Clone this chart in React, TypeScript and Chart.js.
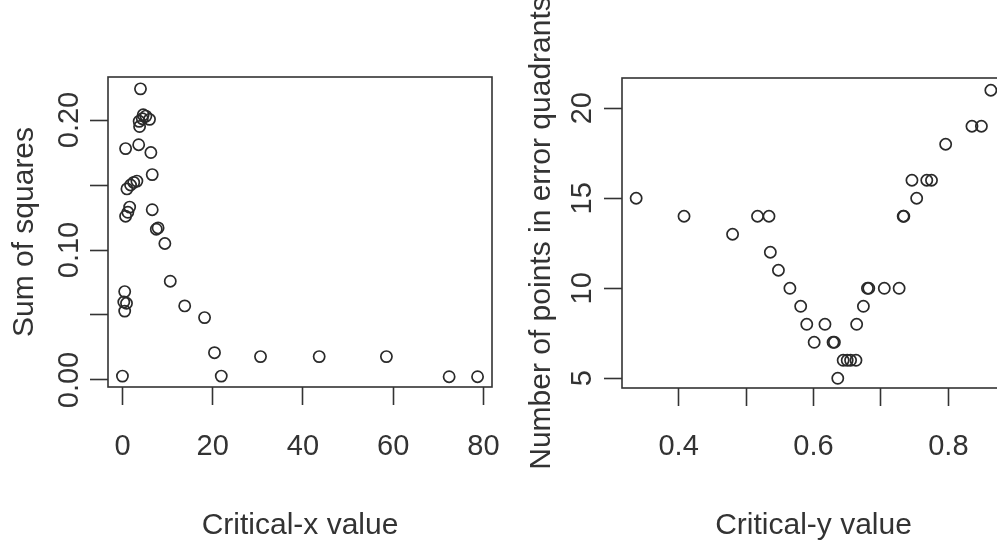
import React, { useEffect, useRef } from "react";
import { Chart, registerables } from "chart.js";

Chart.register(...registerables);

// ---- Left panel data: Critical-x value vs Sum of squares ----
const leftX = [
  4.0, 4.6, 5.2, 6.0, 3.7, 3.8, 4.4,
  0.7, 3.6, 6.3, 6.6,
  1.0, 1.8, 2.5, 3.2,
  0.7, 1.6, 1.2, 6.6,
  7.5, 7.9, 9.4, 10.6, 13.8, 18.2,
  20.4, 30.6, 21.9, 0.0,
  0.5, 0.9, 0.5, 0.3,
  43.6, 58.5, 72.4, 78.7,
];
const leftY = [
  0.224, 0.204, 0.203, 0.2005, 0.199, 0.195, 0.201,
  0.178, 0.181, 0.175, 0.158,
  0.147, 0.15, 0.152, 0.153,
  0.126, 0.133, 0.129, 0.131,
  0.116, 0.117, 0.105, 0.076, 0.057, 0.048,
  0.021, 0.018, 0.003, 0.003,
  0.068, 0.059, 0.053, 0.06,
  0.018, 0.018, 0.0025, 0.0025,
];

// ---- Right panel data: Critical-y value vs Number of points in error quadrants ----
const rightX = [
  0.337, 0.408, 0.48, 0.517, 0.534, 0.536, 0.548, 0.565, 0.581, 0.59,
  0.617, 0.601, 0.629, 0.631, 0.636, 0.644, 0.65, 0.655, 0.663, 0.664,
  0.674, 0.68, 0.682, 0.705, 0.727, 0.733, 0.734, 0.753, 0.746, 0.768,
  0.775, 0.796, 0.835, 0.849, 0.863,
];
const rightY = [
  15, 14, 13, 14, 14, 12, 11, 10, 9, 8,
  8, 7, 7, 7, 5, 6, 6, 6, 6, 8,
  9, 10, 10, 10, 10, 14, 14, 15, 16, 16,
  16, 18, 19, 19, 21,
];

// ---- Axis ticks and labels ----
const leftXTicks = [0, 20, 40, 60, 80];
const leftXLabels = ["0", "20", "40", "60", "80"];
const leftYTicks = [0, 0.05, 0.1, 0.15, 0.2];
const leftYLabels = ["0.00", "", "0.10", "", "0.20"];
const rightXTicks = [0.4, 0.5, 0.6, 0.7, 0.8];
const rightXLabels = ["0.4", "", "0.6", "", "0.8"];
const rightYTicks = [5, 10, 15, 20];
const rightYLabels = ["5", "10", "15", "20"];

const leftXTitle = "Critical-x value";
const leftYTitle = "Sum of squares";
const rightXTitle = "Critical-y value";
const rightYTitle = "Number of points in error quadrants";

const INK = "#333333";
const FAMILY = "'Liberation Sans', Arial, Helvetica, sans-serif";

const boxPlugin = {
  id: "rbox",
  afterDraw(chart: any) {
    const { ctx, chartArea: a } = chart;
    ctx.save();
    ctx.strokeStyle = INK;
    ctx.lineWidth = 1.6;
    ctx.strokeRect(a.left, a.top, a.right - a.left, a.bottom - a.top);
    ctx.restore();
  },
};

type PanelCfg = {
  xs: number[];
  ys: number[];
  xMin: number;
  xMax: number;
  yMin: number;
  yMax: number;
  xTicks: number[];
  xLabels: string[];
  yTicks: number[];
  yLabels: string[];
  xTitle: string;
  yTitle: string;
  padTop: number;
  padRight: number;
  yAxisWidth: number;
  xAxisHeight: number;
  xTickPad: number;
  yTickPad: number;
  yTitlePad: number;
};

function buildConfig(p: PanelCfg): any {
  const pts = p.xs.map((x, i) => ({ x, y: p.ys[i] }));
  const tickFont = { family: FAMILY, size: 29 };
  const titleFont = { family: FAMILY, size: 30 };
  const grid = {
    display: true,
    drawOnChartArea: false,
    drawTicks: true,
    tickLength: 18,
    tickColor: INK,
    tickWidth: 1.6,
  };
  return {
    type: "scatter",
    data: {
      datasets: [
        {
          data: pts,
          pointStyle: "circle",
          pointRadius: 5.6,
          pointBorderWidth: 1.7,
          pointBorderColor: "#2a2a2a",
          pointBackgroundColor: "rgba(0,0,0,0)",
          showLine: false,
        },
      ],
    },
    options: {
      animation: false,
      responsive: false,
      events: [],
      layout: { padding: { top: p.padTop, right: p.padRight, left: 0, bottom: 0 } },
      plugins: { legend: { display: false }, tooltip: { enabled: false } },
      scales: {
        x: {
          type: "linear",
          min: p.xMin,
          max: p.xMax,
          afterBuildTicks: (axis: any) => {
            axis.ticks = p.xTicks.map((v) => ({ value: v }));
          },
          afterFit: (s: any) => {
            s.height = p.xAxisHeight;
          },
          grid,
          border: { display: false },
          ticks: {
            autoSkip: false,
            minRotation: 0,
            maxRotation: 0,
            padding: p.xTickPad,
            font: tickFont,
            color: INK,
            callback: (_v: any, i: number) => p.xLabels[i],
          },
          title: {
            display: true,
            text: p.xTitle,
            font: titleFont,
            color: INK,
            padding: { top: 0, bottom: 0 },
          },
        },
        y: {
          type: "linear",
          min: p.yMin,
          max: p.yMax,
          afterBuildTicks: (axis: any) => {
            axis.ticks = p.yTicks.map((v) => ({ value: v }));
          },
          afterFit: (s: any) => {
            s.width = p.yAxisWidth;
          },
          grid,
          border: { display: false },
          ticks: {
            autoSkip: false,
            minRotation: 90,
            maxRotation: 90,
            crossAlign: "center",
            padding: p.yTickPad,
            font: tickFont,
            color: INK,
            callback: (_v: any, i: number) => p.yLabels[i],
          },
          title: {
            display: true,
            text: p.yTitle,
            font: titleFont,
            color: INK,
            padding: { top: p.yTitlePad, bottom: 0 },
          },
        },
      },
    },
    plugins: [boxPlugin],
  };
}

function Panel(props: { cfg: PanelCfg; left: number; width: number }) {
  const ref = useRef<HTMLCanvasElement | null>(null);
  useEffect(() => {
    if (!ref.current) return;
    const chart = new Chart(ref.current, buildConfig(props.cfg));
    return () => chart.destroy();
  }, []);
  return (
    <canvas
      ref={ref}
      width={props.width}
      height={544}
      style={{ position: "absolute", left: props.left, top: 0, width: props.width, height: 544 }}
    />
  );
}

const leftCfg: PanelCfg = {
  xs: leftX,
  ys: leftY,
  xMin: -3.2,
  xMax: 81.9,
  yMin: -0.0054,
  yMax: 0.2331,
  xTicks: leftXTicks,
  xLabels: leftXLabels,
  yTicks: leftYTicks,
  yLabels: leftYLabels,
  xTitle: leftXTitle,
  yTitle: leftYTitle,
  padTop: 77,
  padRight: 48,
  yAxisWidth: 108,
  xAxisHeight: 157,
  xTickPad: 24.6,
  yTickPad: -8.5,
  yTitlePad: 7,
};

const rightCfg: PanelCfg = {
  xs: rightX,
  ys: rightY,
  xMin: 0.316,
  xMax: 0.884,
  yMin: 4.46,
  yMax: 21.68,
  xTicks: rightXTicks,
  xLabels: rightXLabels,
  yTicks: rightYTicks,
  yLabels: rightYLabels,
  xTitle: rightXTitle,
  yTitle: rightYTitle,
  padTop: 78,
  padRight: 15,
  yAxisWidth: 102,
  xAxisHeight: 156,
  xTickPad: 23.6,
  yTickPad: 4.9,
  yTitlePad: 3.5,
};

export default function App() {
  return (
    <div
      style={{
        position: "fixed",
        left: 0,
        top: 0,
        width: 997,
        height: 544,
        overflow: "hidden",
        background: "#ffffff",
      }}
    >
      <Panel cfg={leftCfg} left={0} width={540} />
      <Panel cfg={rightCfg} left={520} width={500} />
    </div>
  );
}
